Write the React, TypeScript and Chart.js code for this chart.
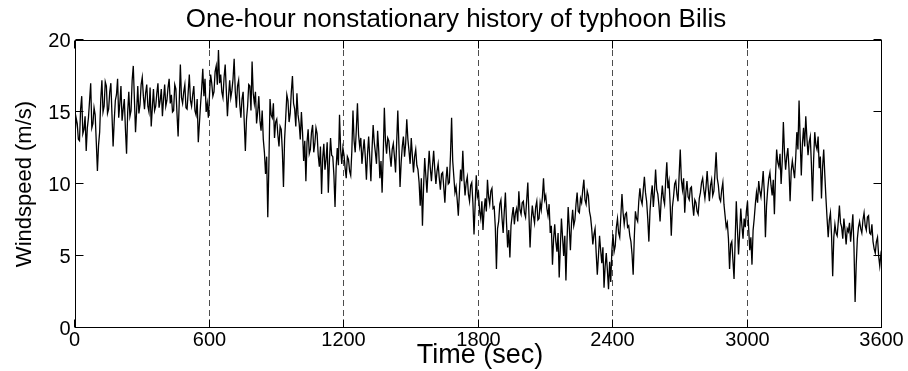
import React, { useEffect, useRef } from "react";
import { Chart, registerables } from "chart.js";

Chart.register(...registerables);

const TITLE = "One-hour nonstationary history of typhoon Bilis";
const X_LABEL = "Time (sec)";
const Y_LABEL = "Windspeed (m/s)";
const X_TICK_STEP = 600;
const Y_TICK_STEP = 5;
const X_MAX = 3600;
const Y_MAX = 20;
const DASHED_AT = [600, 1200, 1800, 2400, 3000];
const SAMPLE_SEC = 5;

// wind speed (m/s), one reading every 5 s, read from the record
const speed0to595 = [
  13.4, 14.6, 14.2, 13.1, 13.0, 15.2, 16.1, 13.5, 13.8, 14.7, 12.3, 13.9, 14.6, 15.8, 17.0, 13.9, 14.2, 15.3, 14.8, 12.9,
  10.9, 12.7, 13.6, 15.9, 17.2, 15.0, 15.4, 17.1, 16.8, 14.9, 15.2, 16.4, 17.0, 14.8, 12.6, 14.4, 15.8, 16.2, 17.3, 14.6,
  15.6, 16.8, 14.4, 15.2, 15.9, 13.8, 12.1, 15.0, 16.4, 14.7, 15.1, 17.2, 18.2, 15.9, 13.6, 15.1, 16.8, 14.9, 15.5, 16.9,
  17.4, 16.1, 15.2, 16.3, 16.9, 15.4, 15.0, 16.7, 14.0, 15.3, 16.6, 15.1, 15.4, 16.3, 17.0, 15.3, 15.8, 16.6, 14.7, 15.9,
  16.9, 15.4, 15.8, 16.7, 17.3, 15.6, 16.2, 15.0, 15.1, 16.9, 16.6, 14.9, 13.3, 15.7, 18.3, 16.0, 15.6, 16.4, 16.9, 15.3,
  15.2, 16.4, 17.6, 15.8, 15.4, 16.2, 16.8, 15.1, 14.8, 15.9, 12.9, 14.2, 15.5, 16.6, 18.0, 16.1, 17.3, 15.0, 15.6, 14.6,
];
const speed600to1195 = [
  16.2, 17.6, 17.0, 16.1, 16.4, 17.8, 18.2, 16.9, 19.3, 17.0, 17.6, 16.4, 16.0, 17.4, 18.3, 16.5, 14.7, 16.1, 17.2, 16.0,
  16.5, 17.3, 18.7, 16.4, 15.3, 16.8, 17.2, 15.5, 14.6, 15.9, 16.4, 14.3, 12.3, 14.5, 15.4, 16.9, 16.8, 15.1, 18.5, 16.3,
  15.6, 16.4, 14.2, 15.0, 16.1, 14.4, 13.7, 15.1, 13.1, 12.2, 10.7, 11.9, 7.7, 11.4, 15.9, 14.8, 14.6, 15.6, 13.2, 14.3,
  14.5, 13.4, 12.6, 14.0, 13.8, 12.3, 9.8, 13.1, 14.6, 16.2, 15.8, 14.3, 14.9, 16.4, 17.5, 15.6, 15.2, 14.0, 16.3, 14.8,
  14.2, 13.1, 15.0, 13.6, 11.6, 13.0, 10.2, 12.9, 13.8, 12.1, 12.4, 13.6, 14.1, 12.2, 12.8, 13.9, 13.5, 12.0, 11.2, 12.6,
  9.3, 11.8, 12.8, 11.0, 11.7, 12.9, 9.4, 11.6, 13.2, 12.0, 11.9, 10.6, 8.4, 11.2, 12.5, 11.3, 14.8, 12.4, 11.4, 12.5,
];
const speed1200to1795 = [
  12.0, 11.1, 10.4, 11.9, 11.7, 10.9, 10.6, 12.3, 15.1, 13.0, 12.2, 13.8, 15.6, 13.4, 12.6, 13.2, 11.4, 12.3, 13.1, 11.9,
  10.3, 12.1, 13.3, 11.8, 10.2, 12.4, 14.1, 12.9, 12.2, 11.4, 13.7, 12.3, 10.4, 11.6, 9.4, 12.0, 15.3, 13.0, 12.1, 13.2,
  13.0, 12.0, 11.2, 12.4, 12.8, 11.9, 10.8, 12.9, 15.1, 12.7, 9.8, 11.5, 12.6, 13.3, 11.9, 12.8, 14.5, 13.1, 12.3, 11.4,
  13.2, 12.0, 10.8, 11.9, 12.4, 11.3, 11.0, 10.1, 8.5, 10.4, 7.1, 9.8, 11.8, 10.6, 9.4, 10.9, 12.3, 11.1, 10.2, 11.3,
  12.3, 11.0, 10.0, 10.9, 11.4, 10.4, 9.6, 10.7, 10.8, 9.8, 8.7, 10.3, 11.2, 10.0, 10.1, 12.0, 14.6, 11.6, 10.5, 9.4,
  9.8, 8.9, 7.8, 9.5, 11.0, 10.2, 12.3, 10.4, 9.2, 10.1, 10.5, 9.3, 8.8, 9.9, 10.1, 8.7, 6.5, 8.6, 10.6, 9.1,
];
const speed1800to2395 = [
  9.4, 8.1, 7.6, 8.8, 6.8, 8.2, 9.0, 8.1, 10.3, 9.1, 8.6, 9.5, 9.7, 8.3, 8.4, 7.0, 4.1, 6.9, 7.4, 8.6,
  8.9, 7.6, 6.6, 8.1, 9.4, 7.3, 5.6, 6.8, 4.9, 7.1, 7.8, 8.4, 7.2, 8.0, 8.3, 7.4, 9.5, 8.2, 7.9, 8.7,
  8.8, 8.0, 7.7, 8.9, 10.1, 7.9, 5.6, 7.4, 8.5, 7.8, 7.3, 8.4, 8.8, 7.5, 7.6, 8.7, 8.2, 9.1, 10.4, 8.9,
  9.2, 8.3, 7.8, 8.6, 6.6, 7.1, 4.4, 6.2, 7.2, 6.0, 5.3, 6.6, 3.5, 5.6, 7.6, 6.3, 5.0, 6.4, 3.3, 6.1,
  8.4, 7.0, 5.4, 7.3, 8.2, 7.1, 7.5, 8.6, 9.4, 8.1, 8.0, 9.0, 8.7, 9.6, 10.3, 8.9, 8.6, 9.5, 9.2, 8.1,
  7.7, 6.9, 5.8, 6.5, 6.9, 5.2, 3.7, 5.0, 6.4, 5.4, 4.5, 5.6, 2.8, 4.3, 5.2, 4.0, 2.7, 4.6, 3.2, 5.4,
];
const speed2400to2995 = [
  6.5, 5.3, 5.7, 7.0, 7.6, 6.6, 6.3, 7.8, 9.3, 8.0, 7.2, 7.9, 8.0, 7.0, 7.1, 6.4, 6.0, 5.1, 3.7, 6.3,
  8.1, 7.6, 7.4, 8.8, 9.7, 8.9, 8.6, 9.6, 10.5, 9.4, 8.8, 7.6, 6.0, 8.1, 9.2, 9.9, 8.4, 9.5, 11.0, 9.6,
  9.3, 8.5, 7.4, 8.9, 9.9, 9.0, 8.6, 10.2, 11.5, 9.7, 10.2, 8.6, 6.4, 8.4, 9.1, 10.0, 10.2, 9.3, 8.8, 10.6,
  12.4, 10.3, 9.6, 10.4, 8.0, 9.4, 10.2, 9.1, 8.9, 9.7, 9.8, 8.6, 7.8, 8.9, 8.7, 8.1, 7.9, 9.0, 9.4, 10.1,
  10.4, 9.6, 9.0, 9.8, 10.9, 9.7, 8.8, 9.9, 10.3, 9.2, 9.5, 10.8, 12.2, 10.4, 9.9, 9.0, 8.8, 9.6, 10.1, 8.6,
  7.8, 7.0, 7.3, 6.2, 4.1, 5.8, 6.0, 4.7, 3.4, 6.1, 8.8, 6.9, 5.1, 6.6, 8.3, 7.1, 6.2, 7.6, 7.0, 8.1,
];
const speed3000to3600 = [
  8.8, 7.0, 5.4, 6.3, 4.4, 6.8, 7.6, 8.6, 9.4, 8.7, 10.2, 9.5, 9.1, 9.9, 10.9, 9.4, 6.3, 8.5, 9.6, 10.4,
  10.8, 9.9, 9.2, 10.3, 7.9, 10.6, 12.4, 11.5, 11.2, 12.1, 10.0, 11.6, 14.3, 12.2, 11.0, 11.9, 12.5, 11.1, 8.8, 10.9,
  11.6, 11.0, 10.4, 11.8, 13.6, 12.4, 15.8, 13.1, 10.6, 12.8, 13.9, 12.6, 14.7, 13.2, 12.0, 12.9, 13.3, 11.4, 8.8, 11.7,
  13.6, 12.7, 12.4, 13.3, 11.1, 11.9, 9.0, 11.2, 12.4, 10.6, 9.0, 7.6, 6.3, 7.5, 8.0, 6.4, 3.6, 6.3, 7.2, 6.6,
  6.4, 7.4, 8.5, 7.3, 7.0, 6.2, 7.6, 6.8, 5.8, 6.9, 6.7, 7.3, 6.0, 6.9, 7.9, 5.6, 1.8, 4.4, 6.2, 7.0,
  7.4, 6.9, 6.6, 7.5, 8.0, 7.1, 6.8, 7.7, 7.8, 6.6, 6.5, 7.2, 6.0, 5.5, 5.2, 6.0, 6.3, 5.0, 4.3, 5.1, 4.7,
];

const FONT = '"Liberation Sans", Arial, Helvetica, sans-serif';

function drawText(
  ctx: CanvasRenderingContext2D,
  text: string,
  x: number,
  y: number,
  size: number,
  align: CanvasTextAlign,
  baseline: CanvasTextBaseline
) {
  ctx.font = `${size}px ${FONT}`;
  ctx.textAlign = align;
  ctx.textBaseline = baseline;
  ctx.fillText(text, x, y);
}

export default function App() {
  const ref = useRef<HTMLCanvasElement>(null);

  useEffect(() => {
    document.body.style.margin = "0";
    const canvas = ref.current;
    if (!canvas) return;
    const speeds = [
      ...speed0to595,
      ...speed600to1195,
      ...speed1200to1795,
      ...speed1800to2395,
      ...speed2400to2995,
      ...speed3000to3600,
    ];
    const points = speeds.map((v, i) => ({ x: i * SAMPLE_SEC, y: v }));

    const framePlugin = {
      id: "matlabFrame",
      beforeDatasetsDraw(chart: any) {
        const { ctx, chartArea: a, scales } = chart;
        const xs = scales.x;
        ctx.save();
        ctx.strokeStyle = "#4d4d4d";
        ctx.lineWidth = 1;
        ctx.setLineDash([6, 4]);
        DASHED_AT.forEach((t) => {
          const px = Math.round(xs.getPixelForValue(t)) - 0.5;
          ctx.beginPath();
          ctx.moveTo(px, a.top);
          ctx.lineTo(px, a.bottom);
          ctx.stroke();
        });
        ctx.restore();
      },
      afterDraw(chart: any) {
        const { ctx, chartArea: a, scales } = chart;
        const xs = scales.x;
        const ys = scales.y;
        const L = Math.round(a.left) + 0.5;
        const R = Math.round(a.right) - 0.5;
        const T = Math.round(a.top) + 0.5;
        const B = Math.round(a.bottom) - 0.5;
        ctx.save();
        ctx.strokeStyle = "#000";
        ctx.lineWidth = 1;
        ctx.setLineDash([]);
        ctx.strokeRect(L, T, R - L, B - T);
        const tl = 8;
        ctx.fillStyle = "#000";
        ys.ticks.forEach((tk: any) => {
          const py = Math.round(ys.getPixelForValue(tk.value)) - 0.5;
          ctx.beginPath();
          ctx.moveTo(L, py);
          ctx.lineTo(L + tl, py);
          ctx.moveTo(R, py);
          ctx.lineTo(R - tl, py);
          ctx.stroke();
          drawText(ctx, String(tk.value), L - 5, py + 7, 20, "right", "alphabetic");
        });
        xs.ticks.forEach((tk: any) => {
          const px = Math.round(xs.getPixelForValue(tk.value)) - 0.5;
          ctx.beginPath();
          ctx.moveTo(px, B);
          ctx.lineTo(px, B - tl);
          ctx.moveTo(px, T);
          ctx.lineTo(px, T + tl);
          ctx.stroke();
          drawText(ctx, String(tk.value), px, 346, 20, "center", "alphabetic");
        });
        drawText(ctx, TITLE, 456, 27, 26, "center", "alphabetic");
        drawText(ctx, X_LABEL, 480, 363, 27, "center", "alphabetic");
        ctx.save();
        ctx.translate(31, (a.top + a.bottom) / 2);
        ctx.rotate(-Math.PI / 2);
        drawText(ctx, Y_LABEL, 0, 0, 22, "center", "alphabetic");
        ctx.restore();
        ctx.restore();
      },
    };

    const chart = new Chart(canvas, {
      type: "line",
      data: {
        datasets: [
          {
            data: points,
            borderColor: "#000",
            borderWidth: 1.3,
            pointRadius: 0,
            tension: 0,
            fill: false,
          },
        ],
      },
      options: {
        animation: false,
        responsive: false,
        layout: { padding: { top: 40, right: 26, left: 0, bottom: 0 } },
        plugins: { legend: { display: false }, title: { display: false }, tooltip: { enabled: false } },
        scales: {
          x: {
            type: "linear",
            min: 0,
            max: X_MAX,
            afterFit: (s: any) => {
              s.height = 43;
            },
            grid: { display: false, drawTicks: false },
            border: { display: false },
            ticks: { stepSize: X_TICK_STEP, autoSkip: false, display: false },
          },
          y: {
            type: "linear",
            min: 0,
            max: Y_MAX,
            afterFit: (s: any) => {
              s.width = 75;
            },
            grid: { display: false, drawTicks: false },
            border: { display: false },
            ticks: { stepSize: Y_TICK_STEP, display: false },
          },
        },
      },
      plugins: [framePlugin],
    } as any);

    return () => chart.destroy();
  }, []);

  return (
    <div style={{ width: 908, height: 371 }}>
      <canvas ref={ref} width={908} height={371} style={{ display: "block" }} />
    </div>
  );
}
